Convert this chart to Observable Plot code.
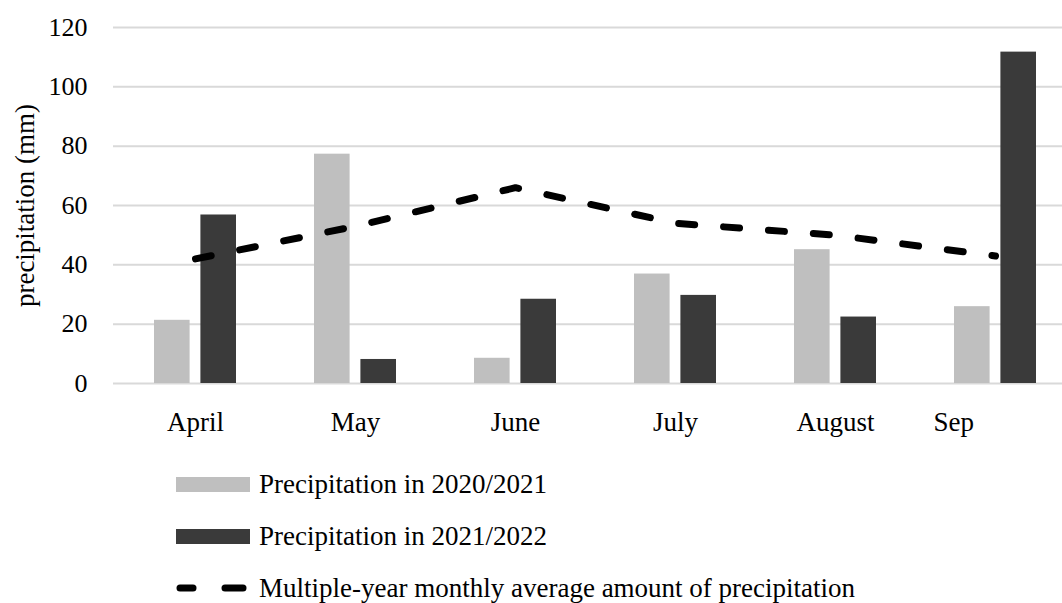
<!DOCTYPE html>
<html>
<head>
<meta charset="utf-8">
<script src="https://cdn.jsdelivr.net/npm/d3@7"></script>
<script src="https://cdn.jsdelivr.net/npm/@observablehq/plot@0.6"></script>
<style>
  html, body { margin: 0; padding: 0; background: #fff; overflow: hidden; }
  body { width: 1062px; height: 603px; font-family: "Liberation Serif", serif; }
  #chart { width: 1062px; height: 455px; overflow: hidden; }
  #chart svg { display: block; max-width: none !important; width: 1076px !important; height: 455px !important; }
  .legend { margin-left: 176px; margin-top: 3px; }
  .row { height: 52px; display: flex; align-items: center; font-size: 27px; color: #000; white-space: nowrap; }
  .sw { width: 74px; height: 15px; margin-right: 9px; flex: none; }
  .row svg { flex: none; margin-right: 9px; }
</style>
</head>
<body>
<div id="chart"></div>
<div class="legend">
  <div class="row"><div class="sw" style="background:#bfbfbf"></div><span>Precipitation in 2020/2021</span></div>
  <div class="row"><div class="sw" style="background:#3a3a3a"></div><span>Precipitation in 2021/2022</span></div>
  <div class="row"><svg width="74" height="14"><line x1="4" y1="7" x2="17" y2="7" stroke="#000" stroke-width="7" stroke-linecap="round"/><line x1="49" y1="7" x2="67" y2="7" stroke="#000" stroke-width="7" stroke-linecap="round"/></svg><span>Multiple-year monthly average amount of precipitation</span></div>
</div>
<script>
const months = ["April", "May", "June", "July", "August", "September"];
const xLabels = ["April", "May", "June", "July", "August", "Sep"];
const precip2021 = [21.3, 77.3, 8.5, 36.9, 45.1, 25.9];
const precip2022 = [56.8, 8.1, 28.4, 29.7, 22.4, 111.7];
const avgPrecip = [42, 53, 66, 54, 50, 43];
const yTicks = [0, 20, 40, 60, 80, 100, 120];

const rows = months.map((m, i) => ({month: m, a: precip2021[i], b: precip2022[i], avg: avgPrecip[i]}));
const labelOf = new Map(months.map((m, i) => [m, xLabels[i]]));

const chart = Plot.plot({
  width: 1076,
  height: 455,
  marginLeft: 113,
  marginRight: 0,
  marginTop: 27,
  marginBottom: 72,
  style: {fontFamily: "Liberation Serif, serif", fontSize: "27px", color: "#000", background: "transparent"},
  x: {type: "band", domain: months, paddingInner: 0.49, paddingOuter: 0.245},
  y: {domain: [0, 120]},
  marks: [
    Plot.gridY(yTicks, {stroke: "#d9d9d9", strokeOpacity: 1, strokeWidth: 2}),
    Plot.barY(rows, {x: "month", y: "a", fill: "#bfbfbf", insetRight: 46.4}),
    Plot.barY(rows, {x: "month", y: "b", fill: "#3a3a3a", insetLeft: 46.4}),
    Plot.line(rows, {x: "month", y: "avg", stroke: "#000", strokeWidth: 7, strokeDasharray: "16 29", strokeLinecap: "round", strokeLinejoin: "round"}),
    Plot.axisY(yTicks, {tickSize: 0, tickPadding: 26, label: null, fontSize: 26}),
    Plot.axisX(months.slice(0, 5), {tickSize: 0, tickPadding: 28, label: null, tickFormat: d => labelOf.get(d)}),
    Plot.axisX(months.slice(5), {tickSize: 0, tickPadding: 28, label: null, tickFormat: d => labelOf.get(d), textAnchor: "start", dx: -62}),
    Plot.text(["precipitation (mm)"], {frameAnchor: "left", dx: -88, rotate: -90, textAnchor: "middle", lineAnchor: "middle", fontSize: 27})
  ]
});
document.getElementById("chart").appendChild(chart);
</script>
</body>
</html>
